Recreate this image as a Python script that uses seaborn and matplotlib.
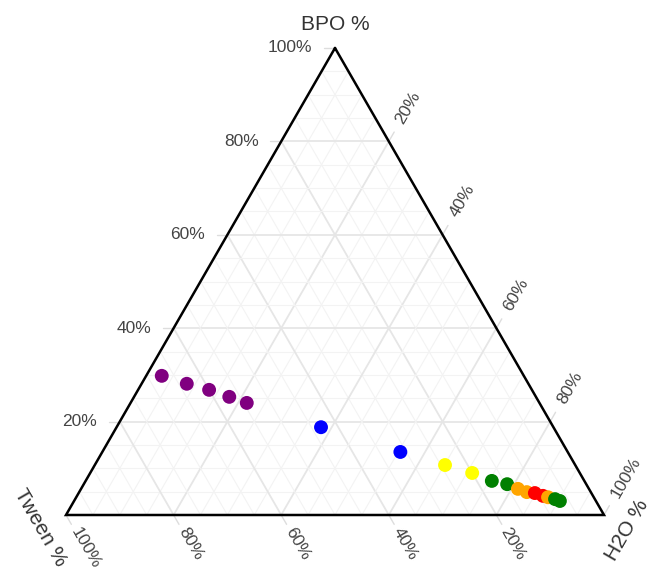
import numpy as np
import pandas as pd
import matplotlib
matplotlib.use("Agg")
import matplotlib.pyplot as plt
import seaborn as sns

# ---- data (fractions) ----
bpo   = [0.298, 0.281, 0.268, 0.253, 0.240, 0.188, 0.135, 0.107, 0.090, 0.073, 0.066, 0.056, 0.049, 0.047, 0.041, 0.038, 0.034, 0.030]
tween = [0.673, 0.635, 0.600, 0.570, 0.544, 0.432, 0.311, 0.242, 0.200, 0.172, 0.147, 0.132, 0.119, 0.105, 0.093, 0.085, 0.074, 0.067]
h2o   = [0.029, 0.084, 0.132, 0.177, 0.216, 0.380, 0.554, 0.651, 0.710, 0.755, 0.787, 0.812, 0.832, 0.848, 0.866, 0.877, 0.892, 0.903]
group = ["purple"] * 5 + ["blue"] * 2 + ["yellow"] * 2 + ["green"] * 2 + ["orange"] * 2 + ["red"] * 2 + ["orange"] + ["green"] * 2
palette = {"purple": "#800080", "blue": "#0000ff", "yellow": "#ffff00",
           "green": "#008000", "orange": "#ffa500", "red": "#ff0000"}
ticks = [0.2, 0.4, 0.6, 0.8, 1.0]
tick_labels = ["20%", "40%", "60%", "80%", "100%"]
axis_titles = {"a": "BPO %", "b": "Tween %", "c": "H2O %"}

H = np.sqrt(3) / 2

def to_xy(a, b, c):
    a = np.asarray(a, float); b = np.asarray(b, float); c = np.asarray(c, float)
    s = a + b + c
    a, c = a / s, c / s
    return c + a / 2, a * H

sns.set_theme(style="white")
plt.rcParams["font.family"] = ["Liberation Sans", "DejaVu Sans"]

W, Hpx = 649, 569
fig = plt.figure(figsize=(W / 100, Hpx / 100), dpi=100)
ax = fig.add_axes([66 / W, 54 / Hpx, 538 / W, 467 / Hpx])
ax.set_xlim(0, 1)
ax.set_ylim(0, H)
ax.set_axis_off()

# ---- grid ----
for k in range(1, 20):
    v = k * 0.05
    major = (k % 4 == 0)
    col = "#e6e6e6" if major else "#f3f3f3"
    lw = 1.3 if major else 0.8
    x, y = to_xy([v, v], [1 - v, 0], [0, 1 - v])
    ax.plot(x, y, color=col, lw=lw, zorder=1)
    x, y = to_xy([1 - v, 0], [v, v], [0, 1 - v])
    ax.plot(x, y, color=col, lw=lw, zorder=1)
    x, y = to_xy([1 - v, 0], [0, 1 - v], [v, v])
    ax.plot(x, y, color=col, lw=lw, zorder=1)

# ---- frame ----
x, y = to_xy([1, 0, 0, 1], [0, 1, 0, 0], [0, 0, 1, 0])
ax.plot(x, y, color="black", lw=1.8, zorder=3, solid_joinstyle="miter", clip_on=False)

# ---- ticks and labels ----
tl = 0.02
fs = 12.5
tc = "#444444"
for v, lab in zip(ticks, tick_labels):
    # a axis (left edge)
    x0, y0 = to_xy(v, 1 - v, 0)
    ax.plot([x0, x0 - tl], [y0, y0], color="#dddddd", lw=1, clip_on=False)
    ax.text(x0 - 0.042, y0, lab, ha="right", va="center", fontsize=fs, color=tc)
    # b axis (bottom edge)
    x0, y0 = to_xy(0, v, 1 - v)
    d = np.array([0.5, -H])
    ax.plot([x0, x0 + tl * d[0]], [y0, y0 + tl * d[1]], color="#dddddd", lw=1, clip_on=False)
    ax.text(x0 + 0.03 * d[0], y0 + 0.03 * d[1], lab, ha="left", va="center", rotation=-60,
            rotation_mode="anchor", fontsize=fs, color=tc)
    # c axis (right edge)
    x0, y0 = to_xy(1 - v, 0, v)
    d = np.array([0.5, H])
    ax.plot([x0, x0 + tl * d[0]], [y0, y0 + tl * d[1]], color="#dddddd", lw=1, clip_on=False)
    ax.text(x0 + 0.04 * d[0], y0 + 0.04 * d[1], lab, ha="left", va="center", rotation=60,
            rotation_mode="anchor", fontsize=fs, color=tc)

# ---- axis titles ----
tfs = 15
fig.text(335 / W, 1 - 24 / Hpx, axis_titles["a"], ha="center", va="center", fontsize=tfs, color="#333333")
fig.text(40 / W, 1 - 528 / Hpx, axis_titles["b"], ha="center", va="center", rotation=-60,
         fontsize=tfs, color="#333333")
fig.text(627 / W, 1 - 530 / Hpx, axis_titles["c"], ha="center", va="center", rotation=60,
         fontsize=tfs, color="#333333")

# ---- points ----
px, py = to_xy(bpo, tween, h2o)
df = pd.DataFrame({"x": px, "y": py, "group": group})
sns.scatterplot(data=df, x="x", y="y", hue="group", palette=palette, s=100,
                edgecolor="none", linewidth=0, legend=False, ax=ax, zorder=4, clip_on=False)
ax.set_xlim(0, 1)
ax.set_ylim(0, H)

fig.savefig("out.png", dpi=100, facecolor="white")
